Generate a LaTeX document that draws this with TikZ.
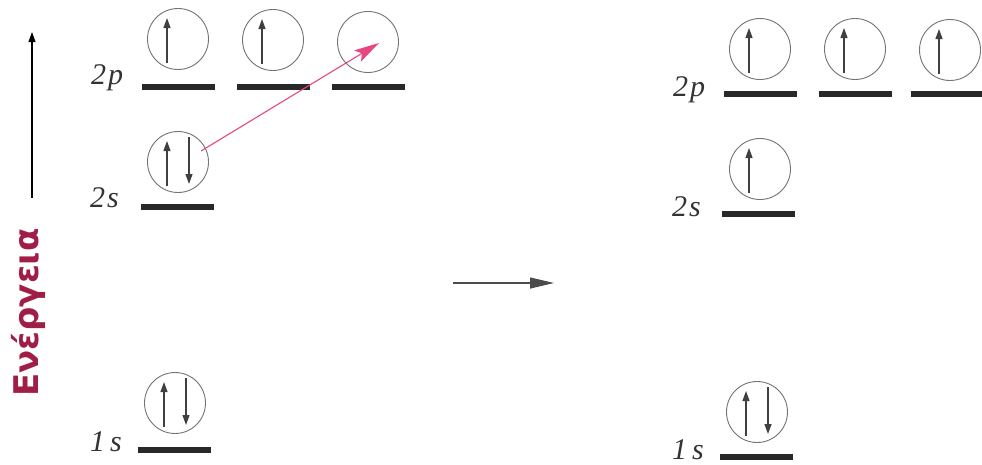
\documentclass[tikz,border=0pt]{standalone}
\usepackage{fontspec}
\newfontfamily\grk{DejaVu Sans}
\newfontfamily\tms{Liberation Serif}
\usetikzlibrary{arrows.meta,calc}
\definecolor{energy}{RGB}{160,30,70}
\definecolor{pinkarr}{RGB}{232,70,128}
\definecolor{bargray}{RGB}{40,40,40}
\tikzset{
  orb/.style={circle, draw=black!55, line width=0.9pt, minimum size=61pt, inner sep=0pt},
  lvl/.style={fill=bargray, minimum width=73pt, minimum height=6.5pt, inner sep=0pt},
  spin/.style={draw=black!75, line width=1.2pt, -{Triangle[length=10pt,width=7pt]}},
  lab/.style={anchor=base west, inner sep=0pt, font=\tms\itshape\fontsize{30}{32}\selectfont, text=black!80},
}
\newcommand{\upspin}[1]{\draw[spin] ($(#1)+(-11,24)$) -- ($(#1)+(-11,-21)$);}
\newcommand{\dnspin}[1]{\draw[spin] ($(#1)+(11,-25)$) -- ($(#1)+(11,22)$);}
\begin{document}
\begin{tikzpicture}[x=1pt,y=-1pt]
\useasboundingbox (0,0) rectangle (982,464);
% energy axis
\coordinate (e1) at (32,198);
\coordinate (e2) at (32,32);
\draw[line width=1.2pt, -{Triangle[length=10pt,width=7pt]}] (e1) -- (e2);
\node[rotate=90, anchor=base west, inner sep=0pt, text=energy, font=\grk\bfseries\fontsize{34}{36}\selectfont] (en) at (38,397) {Ενέργεια};
% ---- left configuration
\node[lvl] (L2pb1) at (178,87) {};
\node[lvl] (L2pb2) at (273,87) {};
\node[lvl] (L2pb3) at (368,87) {};
\node[lvl] (L2sb) at (177,207) {};
\node[lvl] (L1sb) at (174,450) {};
\node[orb] (L2p1) at (178,39) {};
\node[orb] (L2p2) at (273,40) {};
\node[orb] (L2p3) at (368,42) {};
\node[orb] (L2s) at (178,162) {};
\node[orb] (L1s) at (175,403) {};
\upspin{L2p1}
\upspin{L2p2}
\upspin{L2s}
\dnspin{L2s}
\upspin{L1s}
\dnspin{L1s}
\node[lab] (L2plab) at (91,84) {2\kern2pt p};
\node[lab] (L2slab) at (90,207) {2\kern2pt s};
\node[lab] (L1slab) at (90,451) {1\kern5pt s};
% excitation arrow
\coordinate (pa) at ($(L2s)+(23,-11)$);
\coordinate (pb) at ($(L2p3)+(11,1)$);
\draw[pinkarr, line width=1.1pt, -{Stealth[length=25pt,width=13pt,inset=5pt]}] (pa) -- (pb);
% middle arrow
\coordinate (m1) at (453,283);
\coordinate (m2) at (554,283);
\draw[black!70, line width=1.2pt, -{Triangle[length=24pt,width=11pt]}] (m1) -- (m2);
% ---- right configuration
\node[lvl] (R2pb1) at (760,94) {};
\node[lvl] (R2pb2) at (855,94) {};
\node[lvl] (R2pb3) at (947,94) {};
\node[lvl] (R2sb) at (758,214) {};
\node[lvl] (R1sb) at (756,457) {};
\node[orb] (R2p1) at (760,49) {};
\node[orb] (R2p2) at (855,49) {};
\node[orb] (R2p3) at (950,50) {};
\node[orb] (R2s) at (760,169) {};
\node[orb] (R1s) at (757,412) {};
\upspin{R2p1}
\upspin{R2p2}
\upspin{R2p3}
\upspin{R2s}
\upspin{R1s}
\dnspin{R1s}
\node[lab] (R2plab) at (673,96) {2\kern2pt p};
\node[lab] (R2slab) at (672,216) {2\kern2pt s};
\node[lab] (R1slab) at (672,459) {1\kern5pt s};
\end{tikzpicture}
\end{document}
